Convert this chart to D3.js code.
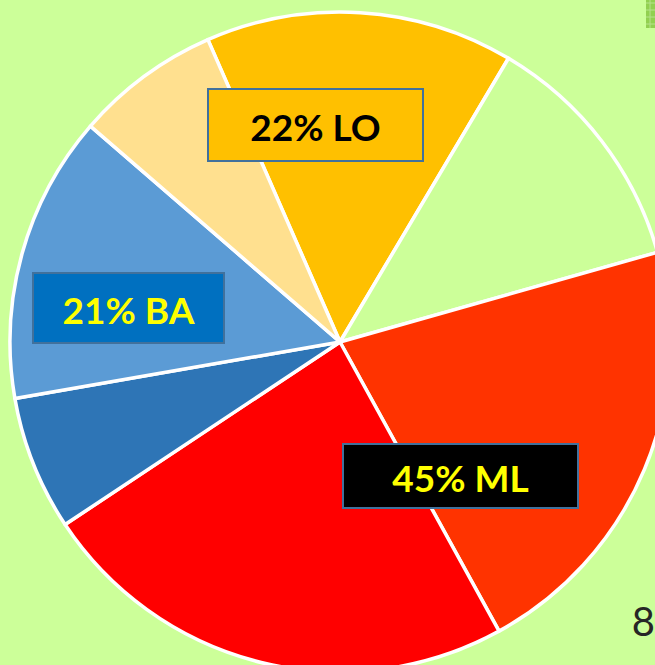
<!DOCTYPE html>
<html>
<head>
<meta charset="utf-8">
<script src="https://cdnjs.cloudflare.com/ajax/libs/d3/7.8.5/d3.min.js"></script>
<style>
body { margin: 0; background: #CCFF99; overflow: hidden; }
svg { display: block; }
</style>
</head>
<body>
<svg id="main" width="655" height="665"></svg>
<script>
// slice data, clockwise from the LO slice
var categories = ["LO", "Other", "ML1", "ML2", "BA1", "BA2", "LO2"];
var values = [15.1, 12.1, 21.4, 23.7, 6.6, 14.1, 7.1];
var colors = ["#FFC000", "#CCFF99", "#FF3300", "#FF0000", "#2E75B6", "#5B9BD5", "#FFE08F"];
var labelTexts = ["22% LO", "21% BA", "45% ML"];
var pageNumber = "8";

var svg = d3.select("#main");
svg.append("rect").attr("width", 655).attr("height", 665).attr("fill", "#CCFF99");

var cx = 340, cy = 342, r = 330;
var start = -23.6 * Math.PI / 180;
var pie = d3.pie().sort(null).startAngle(start).endAngle(start + 2 * Math.PI);
var arc = d3.arc().innerRadius(0).outerRadius(r);

var g = svg.append("g").attr("transform", "translate(" + cx + "," + cy + ")");
g.selectAll("path").data(pie(values)).enter().append("path")
	.attr("d", arc)
	.attr("fill", function(d, i) { return colors[i]; })
	.attr("stroke", "#ffffff")
	.attr("stroke-width", 3.5)
	.attr("stroke-linejoin", "round");

// label boxes
var boxes = [
	{x: 208, y: 89, w: 215, h: 72, fill: "#FFC000", color: "#000000"},
	{x: 33, y: 273, w: 191, h: 70, fill: "#0070C0", color: "#FFFF00"},
	{x: 343, y: 444, w: 235, h: 64, fill: "#000000", color: "#FFFF00"}
];
boxes.forEach(function(b, i) {
	svg.append("rect").attr("x", b.x).attr("y", b.y).attr("width", b.w).attr("height", b.h)
		.attr("fill", b.fill).attr("stroke", "#41719C").attr("stroke-width", 2);
	svg.append("text").attr("x", b.x + b.w / 2).attr("y", b.y + b.h / 2 + 1)
		.attr("text-anchor", "middle").attr("dominant-baseline", "central")
		.attr("font-family", "Lato, 'Open Sans', sans-serif").attr("font-weight", "bold")
		.attr("font-size", 37).attr("fill", b.color)
		.text(labelTexts[i]);
});

// page number
svg.append("text").attr("x", 655).attr("y", 636).attr("text-anchor", "end")
	.attr("font-family", "Lato, 'Open Sans', sans-serif").attr("font-size", 40)
	.attr("fill", "#262626").text(pageNumber);

// small textured mark top-right
var mark = svg.append("g");
mark.append("rect").attr("x", 646).attr("y", 0).attr("width", 9).attr("height", 28).attr("fill", "#92D050");
for (var k = 0; k < 4; k++) {
	mark.append("line").attr("x1", 646).attr("x2", 655).attr("y1", 3 + k * 7).attr("y2", 3 + k * 7)
		.attr("stroke", "#B5E38A").attr("stroke-width", 1);
}
mark.append("line").attr("x1", 650).attr("x2", 650).attr("y1", 0).attr("y2", 28).attr("stroke", "#B5E38A").attr("stroke-width", 1);
</script>
</body>
</html>
